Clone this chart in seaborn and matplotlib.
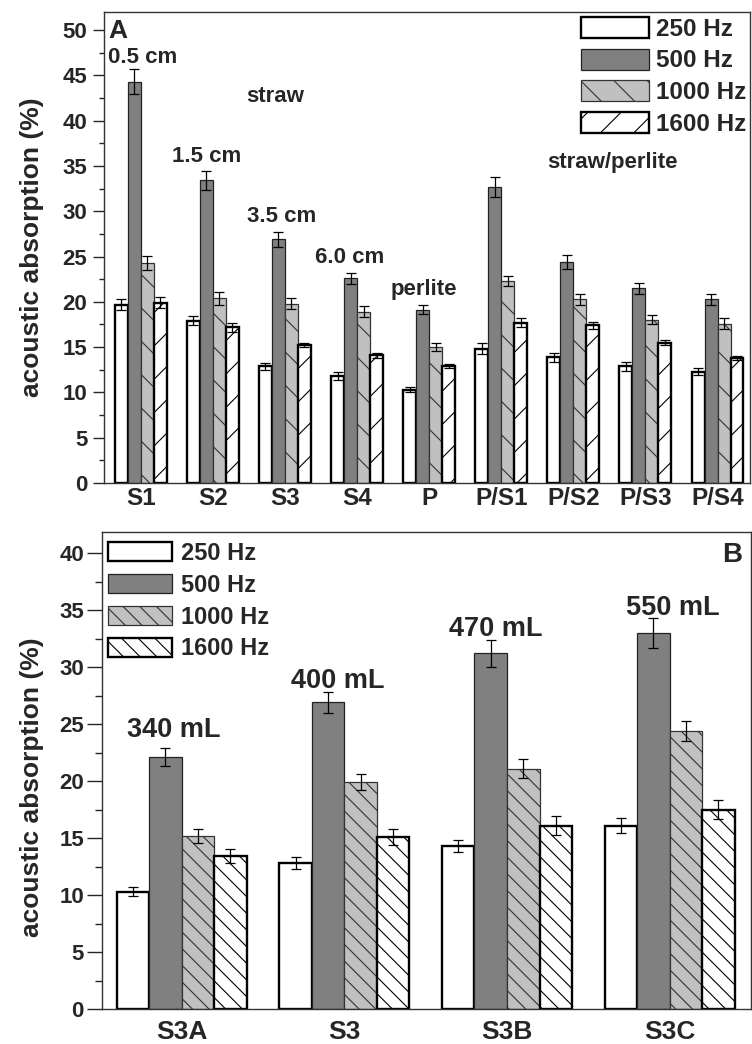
import matplotlib
matplotlib.use("Agg")
import numpy as np
import pandas as pd
import matplotlib.pyplot as plt
from matplotlib.ticker import MultipleLocator
import seaborn as sns

### Data
freqs = ["250 Hz", "500 Hz", "1000 Hz", "1600 Hz"]

samples_a = ["S1", "S2", "S3", "S4", "P", "P/S1", "P/S2", "P/S3", "P/S4"]
a_250 = [19.7, 17.9, 12.9, 11.8, 10.3, 14.8, 13.9, 12.9, 12.3]
a_500 = [44.3, 33.4, 26.9, 22.6, 19.1, 32.7, 24.4, 21.5, 20.3]
a_1000 = [24.3, 20.4, 19.8, 18.9, 15.0, 22.3, 20.3, 18.0, 17.6]
a_1600 = [19.9, 17.2, 15.2, 14.1, 12.9, 17.7, 17.4, 15.5, 13.8]
a_err_250 = [0.6, 0.5, 0.4, 0.4, 0.3, 0.6, 0.5, 0.5, 0.4]
a_err_500 = [1.4, 1.0, 0.8, 0.6, 0.5, 1.1, 0.8, 0.6, 0.6]
a_err_1000 = [0.8, 0.7, 0.6, 0.6, 0.4, 0.6, 0.6, 0.5, 0.6]
a_err_1600 = [0.6, 0.5, 0.2, 0.3, 0.2, 0.5, 0.4, 0.3, 0.2]

# (text, x position in category units, y value)
notes_a = [("0.5 cm", 0.03, 47.0), ("straw", 1.87, 42.7), ("1.5 cm", 0.91, 36.0),
           ("3.5 cm", 1.95, 29.4), ("6.0 cm", 2.90, 24.9), ("perlite", 3.92, 21.4),
           ("straw/perlite", 6.54, 35.4)]

samples_b = ["S3A", "S3", "S3B", "S3C"]
b_250 = [10.3, 12.8, 14.3, 16.1]
b_500 = [22.1, 26.9, 31.2, 33.0]
b_1000 = [15.2, 19.9, 21.1, 24.4]
b_1600 = [13.4, 15.1, 16.1, 17.5]
b_err_250 = [0.4, 0.5, 0.5, 0.7]
b_err_500 = [0.8, 0.9, 1.2, 1.3]
b_err_1000 = [0.6, 0.7, 0.8, 0.9]
b_err_1600 = [0.6, 0.7, 0.8, 0.8]

notes_b = [("340 mL", -0.05, 24.5), ("400 mL", 0.96, 28.8),
           ("470 mL", 1.93, 33.3), ("550 mL", 3.02, 35.2)]

palette = {"250 Hz": "white", "500 Hz": "#808080", "1000 Hz": "#c0c0c0", "1600 Hz": "white"}
edges = ["black", "#222222", "#333333", "black"]
edge_lw = [1.7, 0.9, 0.9, 1.7]


def to_long(samples, series):
    rows = []
    for f, vals in zip(freqs, series):
        for s, v in zip(samples, vals):
            rows.append({"sample": s, "freq": f, "value": v})
    return pd.DataFrame(rows)


sns.set_style("ticks")
plt.rcParams["font.family"] = ["Liberation Sans", "DejaVu Sans"]
plt.rcParams["font.weight"] = "bold"
plt.rcParams["hatch.linewidth"] = 0.8


def draw_panel(ax, samples, series, errs, width, hatches, ylim, xlim, ytick_fs, xtick_fs, note_fs, notes):
    df = to_long(samples, series)
    sns.barplot(data=df, x="sample", y="value", hue="freq", order=samples, hue_order=freqs,
                palette=palette, saturation=1, width=width, errorbar=None,
                legend=False, ax=ax, zorder=2)
    bars = list(ax.containers)
    for cont, hatch, ec, lw, err in zip(bars, hatches, edges, edge_lw, errs):
        for b in cont.patches:
            b.set_edgecolor(ec)
            b.set_linewidth(lw)
            b.set_hatch(hatch)
        xs = [b.get_x() + b.get_width() / 2 for b in cont.patches]
        hs = [b.get_height() for b in cont.patches]
        ax.errorbar(xs, hs, yerr=err, fmt="none", ecolor="black", elinewidth=0.9,
                    capsize=3.8, capthick=0.9, zorder=3)
    for txt, x, y in notes:
        ax.text(x, y, txt, ha="center", va="center", fontsize=note_fs, fontweight="bold")
    ax.set_ylim(*ylim)
    ax.set_xlim(*xlim)
    ax.yaxis.set_major_locator(MultipleLocator(5))
    ax.yaxis.set_minor_locator(MultipleLocator(2.5))
    ax.tick_params(axis="y", which="major", direction="out", length=8, width=1, labelsize=ytick_fs, pad=4)
    ax.tick_params(axis="y", which="minor", direction="out", length=3.5, width=1)
    ax.tick_params(axis="x", length=0, labelsize=xtick_fs)
    ax.set_xlabel("")
    for sp in ax.spines.values():
        sp.set_visible(True)
        sp.set_linewidth(1.0)
        sp.set_color("#333333")
    return bars


fig = plt.figure(figsize=(7.52, 10.44), dpi=100)
ax_a = fig.add_axes([0.1383, 0.5374, 0.859, 0.4511])
ax_b = fig.add_axes([0.1356, 0.0335, 0.863, 0.4569])

bars_a = draw_panel(ax_a, samples_a, [a_250, a_500, a_1000, a_1600],
                    [a_err_250, a_err_500, a_err_1000, a_err_1600],
                    0.72, ["", "", "\\", "/"], (0, 52), (-0.51, 8.45), 16, 17.5, 16, notes_a)
ax_a.tick_params(axis="x", pad=3)
ax_a.set_ylabel("acoustic absorption (%)", fontsize=19, fontweight="bold")
ax_a.yaxis.set_label_coords(-0.093, 0.5)
ax_a.text(0.006, 0.96, "A", transform=ax_a.transAxes, ha="left", va="center",
          fontsize=19, fontweight="bold")
ax_a.legend(handles=[c.patches[0] for c in bars_a], labels=freqs, loc="upper left",
            bbox_to_anchor=(0.738, 0.99), frameon=False, borderpad=0, borderaxespad=0,
            handlelength=2.8, handleheight=0.95, labelspacing=0.33, handletextpad=0.3,
            prop={"size": 17.5, "weight": "bold"})

bars_b = draw_panel(ax_b, samples_b, [b_250, b_500, b_1000, b_1600],
                    [b_err_250, b_err_500, b_err_1000, b_err_1600],
                    0.8, ["", "", "\\\\", "\\\\"], (0, 41.85), (-0.49, 3.5), 16, 19, 19.5, notes_b)
ax_b.tick_params(axis="x", pad=8)
ax_b.tick_params(axis="y", which="major", length=11, pad=2)
ax_b.tick_params(axis="y", which="minor", length=5)
ax_b.set_ylabel("acoustic absorption (%)", fontsize=19, fontweight="bold")
ax_b.yaxis.set_label_coords(-0.089, 0.465)
ax_b.text(0.971, 0.952, "B", transform=ax_b.transAxes, ha="center", va="center",
          fontsize=20, fontweight="bold")
ax_b.legend(handles=[c.patches[0] for c in bars_b], labels=freqs, loc="upper left",
            bbox_to_anchor=(0.009, 0.98), frameon=False, borderpad=0, borderaxespad=0,
            handlelength=2.7, handleheight=0.9, labelspacing=0.38, handletextpad=0.4,
            prop={"size": 17, "weight": "bold"})

fig.savefig("out.png", dpi=100)
